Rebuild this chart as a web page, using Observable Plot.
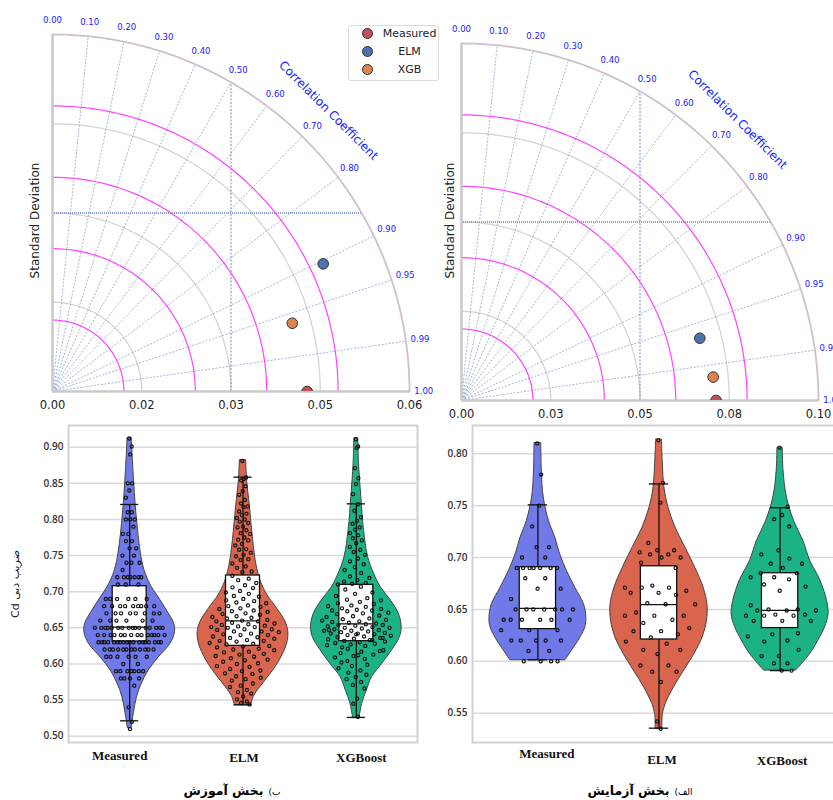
<!DOCTYPE html>
<html><head><meta charset="utf-8">
<script src="https://cdn.jsdelivr.net/npm/d3@7"></script>
<script src="https://cdn.jsdelivr.net/npm/@observablehq/plot@0.6"></script>
<style>
html,body{margin:0;padding:0;width:833px;height:800px;overflow:hidden;background:#fff;}
#root{position:relative;width:833px;height:800px;overflow:hidden;}
.panel{position:absolute;}
.panel svg{max-width:none;overflow:visible;display:block;}
#legend{position:absolute;left:348px;top:25px;width:89px;height:54px;border:1px solid #dcdcdc;border-radius:3px;background:#fff;z-index:5;}
.caption{position:absolute;top:780px;width:220px;text-align:center;font-family:"DejaVu Sans";direction:rtl;white-space:nowrap;color:#000;}
.caption .pre{font-size:9px;font-weight:normal;}
.caption b{font-size:12.5px;}
</style></head><body><div id="root"></div>
<script>
// ---------------- Taylor diagram data ----------------
const taylorModels = ["Measured", "ELM", "XGB"];
const taylorColors = ["#c44e52", "#4c72b0", "#dd8452"];
const corrTicks = [0.0, 0.1, 0.2, 0.3, 0.4, 0.5, 0.6, 0.7, 0.8, 0.9, 0.95, 0.99, 1.0];
const corrTickLabels = ["0.00","0.10","0.20","0.30","0.40","0.50","0.60","0.70","0.80","0.90","0.95","0.99","1.00"];

// training (left)
const trainStd = [0.0428, 0.0503, 0.0419];
const trainCorr = [1.0, 0.9045, 0.9618];
const trainMaxStd = 0.06;
const trainStdTicks = [0, 0.015, 0.03, 0.045, 0.06];
const trainStdTickLabels = ["0.00", "0.02", "0.03", "0.05", "0.06"];
const trainPinkRadii = [0.012, 0.024, 0.036, 0.048];
const trainGrayRadii = [0.015, 0.03, 0.045];

// test (right)
const testStd = [0.0713, 0.0690, 0.0708];
const testCorr = [1.0, 0.9675, 0.9957];
const testMaxStd = 0.10;
const testStdTicks = [0, 0.025, 0.05, 0.075, 0.10];
const testStdTickLabels = ["0.00", "0.03", "0.05", "0.08", "0.10"];
const testPinkRadii = [0.02, 0.04, 0.06, 0.08];
const testGrayRadii = [0.025, 0.05, 0.075];

// ---------------- Violin data ----------------
const violinCategories = ["Measured", "ELM", "XGBoost"];
const violinColors = ["#6f79e8", "#d9654f", "#1bb386"];
const trainYTicks = [0.50, 0.55, 0.60, 0.65, 0.70, 0.75, 0.80, 0.85, 0.90];
const testYTicks = [0.55, 0.60, 0.65, 0.70, 0.75, 0.80];

const trainMeasured = [0.912,0.901,0.89,0.85,0.85,0.84,0.83,0.81,0.81,0.80,0.80,0.80,0.79,0.78,0.78,0.77,0.77,0.76,0.76,0.75,0.75,0.74,0.74,0.74,0.73,
0.72,0.72,0.72,0.72,0.72,0.72,0.72,0.71,0.71,0.71,0.69,0.69,0.69,0.69,0.69,0.69,
0.68,0.68,0.68,0.68,0.68,0.68,0.68,0.68,0.68,0.67,0.67,0.67,0.67,0.67,0.67,0.67,0.67,0.66,0.66,0.66,0.66,0.66,0.66,
0.65,0.65,0.65,0.65,0.65,0.65,0.65,0.65,0.65,0.65,0.65,0.65,0.65,0.65,0.65,0.65,
0.64,0.64,0.64,0.64,0.64,0.64,0.64,0.64,0.64,0.64,0.64,0.64,0.64,0.64,
0.63,0.63,0.63,0.63,0.63,0.63,0.63,0.63,0.63,0.63,0.63,0.63,0.63,0.63,0.63,0.63,0.63,0.63,
0.62,0.62,0.62,0.62,0.62,0.62,0.62,0.62,0.62,0.62,0.62,0.62,0.61,0.61,0.61,0.61,0.61,0.61,0.60,0.60,
0.59,0.59,0.59,0.59,0.59,0.59,0.59,0.58,0.58,0.58,0.58,0.57,0.54,0.52,0.51];
const trainELM = [0.881,0.858,0.856,0.854,0.846,0.839,0.834,0.827,0.822,0.818,0.817,0.811,0.808,0.806,0.802,0.800,0.797,
0.795,0.790,0.789,0.785,0.781,0.780,0.775,0.772,0.771,0.766,0.764,0.759,0.758,0.754,0.751,0.749,
0.745,0.744,0.739,0.735,0.733,0.728,0.727,0.722,0.718,0.716,0.712,0.709,0.706,0.705,0.701,0.699,
0.697,0.694,0.693,0.690,0.688,0.687,0.685,0.684,0.681,0.680,0.679,0.677,0.676,0.674,
0.673,0.672,0.670,0.669,0.668,0.666,0.665,0.664,0.663,0.661,0.660,0.659,0.659,0.657,0.656,0.655,0.654,0.653,0.652,0.651,
0.651,0.650,0.648,0.648,0.647,0.645,0.645,0.644,0.642,0.641,0.640,0.640,0.638,0.637,0.636,0.635,0.633,0.632,0.632,0.631,0.629,0.628,
0.627,0.625,0.624,0.623,0.621,0.620,0.619,0.617,0.616,0.614,0.613,0.611,0.610,0.608,0.606,0.605,
0.603,0.601,0.600,0.597,0.596,0.593,0.591,0.590,0.587,0.586,0.583,0.581,0.579,
0.577,0.573,0.570,0.568,0.564,0.561,0.559,0.555,0.551,0.548,0.546,0.544];
const trainXGBoost = [0.911,0.901,0.899,0.871,0.857,0.849,0.835,0.821,0.812,0.803,0.798,0.794,0.789,0.786,
0.781,0.778,0.774,0.771,0.767,0.762,0.758,0.755,0.751,0.746,0.742,0.738,0.734,0.730,0.726,
0.721,0.719,0.716,0.714,0.712,0.711,0.710,0.707,0.703,0.699,0.697,0.694,0.691,
0.689,0.688,0.686,0.684,0.683,0.681,0.680,0.679,0.677,0.676,0.675,0.674,
0.674,0.673,0.671,0.670,0.669,0.667,0.666,0.665,0.663,0.662,0.661,0.659,0.658,0.656,0.657,0.660,
0.655,0.654,0.654,0.653,0.652,0.651,0.650,0.650,0.649,0.648,0.647,0.646,0.646,0.645,0.644,0.643,0.642,0.642,0.641,0.640,0.639,0.638,
0.637,0.636,0.635,0.634,0.633,0.632,0.631,0.630,0.629,0.628,0.627,0.626,0.625,0.623,0.636,0.641,0.647,0.633,
0.621,0.619,0.617,0.615,0.613,0.611,0.609,0.607,0.604,0.618,0.612,
0.602,0.599,0.597,0.594,0.591,0.588,0.585,0.582,0.579,0.575,0.571,0.566,0.552,0.545,0.527];

const testMeasured = [0.81,0.78,0.75,0.73,0.71,0.71,0.70,0.70,0.69,0.69,0.69,0.69,0.69,0.69,0.69,0.68,0.68,0.67,0.67,0.66,
0.65,0.65,0.65,0.65,0.65,0.65,0.65,0.64,0.64,0.64,0.64,0.64,0.64,0.63,0.63,0.63,0.62,0.62,0.62,0.62,0.62,0.61,0.61,0.60,0.60,0.60,0.60];
const testELM = [0.813,0.772,0.753,0.714,0.707,0.707,0.705,0.703,0.703,0.700,0.700,0.695,0.690,0.673,0.671,0.671,0.671,0.668,0.666,0.666,0.664,
0.656,0.655,0.655,0.647,0.644,0.644,0.644,0.640,0.637,0.632,0.629,0.629,0.626,0.623,0.619,0.617,0.611,0.611,0.607,0.596,0.596,0.590,0.590,0.580,0.542,0.535];
const testXGBoost = [0.806,0.749,0.741,0.737,0.730,0.707,0.703,0.699,0.694,0.694,0.690,0.685,0.685,0.681,0.681,0.679,0.674,0.672,0.668,0.654,
0.650,0.650,0.649,0.649,0.649,0.645,0.645,0.644,0.644,0.644,0.639,0.639,0.639,0.627,0.626,0.624,0.620,0.619,0.611,0.605,0.605,0.598,0.598,0.591,0.591];

// box-plot statistics
const trainQ1 = [0.631, 0.625, 0.6315];
const trainMedian = [0.651, 0.6597, 0.6556];
const trainQ3 = [0.7076, 0.7224, 0.7095];
const trainWhiskerLow = [0.5213, 0.5434, 0.526];
const trainWhiskerHigh = [0.8207, 0.8585, 0.8216];
const testQ1 = [0.631, 0.621, 0.632];
const testMedian = [0.651, 0.6547, 0.649];
const testQ3 = [0.6907, 0.6916, 0.6849];
const testWhiskerLow = [0.6014, 0.5355, 0.591];
const testWhiskerHigh = [0.7508, 0.771, 0.748];

// violin outlines: [value, relative density]
const trainOutlineMeasured = [[0.912,0.05],[0.909,0.05],[0.849,0.10],[0.80,0.16],[0.748,0.26],[0.725,0.35],[0.706,0.49],[0.692,0.64],[0.674,0.82],[0.656,0.98],[0.644,1.0],[0.628,0.90],[0.609,0.64],[0.591,0.42],[0.573,0.27],[0.554,0.16],[0.531,0.09],[0.515,0.05],[0.511,0.04]];
const trainOutlineELM = [[0.8816,0.07],[0.854,0.09],[0.819,0.15],[0.773,0.22],[0.736,0.30],[0.713,0.40],[0.695,0.54],[0.676,0.76],[0.658,0.94],[0.644,1.0],[0.630,0.98],[0.612,0.87],[0.593,0.69],[0.575,0.47],[0.556,0.25],[0.543,0.18]];
const trainOutlineXGBoost = [[0.9116,0.045],[0.877,0.06],[0.831,0.11],[0.785,0.17],[0.748,0.26],[0.725,0.39],[0.706,0.54],[0.688,0.76],[0.669,0.94],[0.651,1.0],[0.637,0.96],[0.619,0.79],[0.600,0.57],[0.582,0.35],[0.563,0.23],[0.545,0.13],[0.525,0.07]];
const testOutlineMeasured = [[0.81,0.07],[0.784,0.08],[0.758,0.12],[0.735,0.23],[0.719,0.36],[0.703,0.46],[0.687,0.60],[0.671,0.77],[0.655,0.95],[0.642,1.0],[0.633,0.98],[0.623,0.88],[0.61,0.70],[0.601,0.57]];
const testOutlineELM = [[0.8135,0.06],[0.79,0.08],[0.768,0.11],[0.749,0.19],[0.73,0.33],[0.71,0.54],[0.69,0.75],[0.671,0.92],[0.655,1.0],[0.639,0.99],[0.623,0.90],[0.607,0.73],[0.591,0.52],[0.575,0.31],[0.559,0.14],[0.549,0.08],[0.535,0.07]];
const testOutlineXGBoost = [[0.8054,0.055],[0.784,0.07],[0.758,0.14],[0.735,0.29],[0.716,0.48],[0.697,0.62],[0.678,0.83],[0.658,0.97],[0.645,1.0],[0.633,0.93],[0.62,0.79],[0.607,0.62],[0.591,0.33]];

const yLabelText = "ضریب دبی Cd";
const trainCaptionPrefix = "ب)";
const trainCaptionText = "بخش آموزش";
const testCaptionPrefix = "الف)";
const testCaptionText = "بخش آزمایش";

// ---------------- drawing ----------------
const root = document.getElementById("root");
function place(node, left, top, w) {
  const d = document.createElement("div");
  d.className = "panel";
  d.style.left = left + "px"; d.style.top = top + "px"; d.style.width = w + "px";
  d.appendChild(node); root.appendChild(d);
}

function taylorPlot(o) {
  const R = o.maxStd, rad = Math.PI / 180;
  const arcPts = (r, g) => d3.range(0, 90.5, 1).map(a => ({g, x: r * Math.cos(a * rad), y: r * Math.sin(a * rad)}));
  const gray = o.gray.flatMap((r, i) => arcPts(r, i));
  const pink = o.pink.flatMap((r, i) => arcPts(r, i));
  const outer = arcPts(R, 0);
  const spokes = corrTicks.filter(c => c > 0 && c < 1).map(c => ({x1: 0, y1: 0, x2: R * c, y2: R * Math.sqrt(1 - c * c)}));
  const labels = corrTicks.map((c, i) => ({x: 1.04 * R * c, y: 1.04 * R * Math.sqrt(1 - c * c), t: corrTickLabels[i]}));
  const pts = taylorModels.map((m, i) => ({m, x: o.std[i] * o.corr[i], y: o.std[i] * Math.sqrt(1 - o.corr[i] ** 2)}));
  const half = R * Math.sqrt(3) / 2;
  return Plot.plot({
    width: o.width, height: o.height,
    marginLeft: o.ml, marginRight: o.mr, marginTop: o.mt, marginBottom: o.mb,
    x: {domain: [0, R], axis: null}, y: {domain: [0, R], axis: null},
    color: {domain: taylorModels, range: taylorColors},
    style: {fontFamily: "DejaVu Sans", fontSize: "11.5px", color: "#222", background: "transparent", overflow: "visible"},
    marks: [
      Plot.line(gray, {x: "x", y: "y", z: "g", stroke: "#d4d4d4", strokeWidth: 1.3}),
      Plot.link(spokes, {x1: "x1", y1: "y1", x2: "x2", y2: "y2", stroke: "#8ea3d2", strokeWidth: 0.8, strokeDasharray: "2,1.5"}),
      Plot.ruleX([R / 2], {y1: 0, y2: half, stroke: "#6a80c2", strokeWidth: 0.9, strokeDasharray: "2,1.5"}),
      Plot.ruleY([R / 2], {x1: 0, x2: half, stroke: "#8a9bcc", strokeWidth: 1.8, strokeDasharray: "1,1"}),
      Plot.line(pink, {x: "x", y: "y", z: "g", stroke: "#ff44ff", strokeWidth: 1.2}),
      Plot.line(outer, {x: "x", y: "y", stroke: "#cfbfcf", strokeWidth: 1.8}),
      Plot.ruleX([0], {y1: 0, y2: R, stroke: "#c9c9c9", strokeWidth: 2.5}),
      Plot.ruleY([0], {x1: 0, x2: R, stroke: "#c9c9c9", strokeWidth: 2.5}),
      Plot.text(labels, {x: "x", y: "y", text: "t", fill: "#2020ff", fontSize: 8.5}),
      Plot.text([{x: 0.773 * R, y: 0.787 * R}], {x: "x", y: "y", text: () => "Correlation Coefficient", rotate: 45, fill: "#2020ff", fontSize: 12}),
      Plot.text([{x: o.ylabX * R, y: o.ylabY * R}], {x: "x", y: "y", text: () => "Standard Deviation", rotate: -90, textAnchor: "middle", fontSize: 12, fill: "#222"}),
      Plot.dot(pts, {x: "x", y: "y", fill: "m", r: 5.3, stroke: "#333", strokeWidth: 1, clip: true}),
      Plot.axisX(o.ticks, {tickFormat: d => o.tickLabels[o.ticks.indexOf(d)], tickSize: 0, tickPadding: 9, fontSize: 11.5, label: null})
    ]
  });
}

place(taylorPlot({maxStd: trainMaxStd, std: trainStd, corr: trainCorr, ticks: trainStdTicks, tickLabels: trainStdTickLabels,
  pink: trainPinkRadii, gray: trainGrayRadii, width: 420, height: 420, ml: 52, mr: 11, mt: 34, mb: 29,
  ylabX: -17 / 357, ylabY: 171 / 357}), 0, 0, 420);
place(taylorPlot({maxStd: testMaxStd, std: testStd, corr: testCorr, ticks: testStdTicks, tickLabels: testStdTickLabels,
  pink: testPinkRadii, gray: testGrayRadii, width: 430, height: 430, ml: 41, mr: 32, mt: 43, mb: 30,
  ylabX: -11 / 357, ylabY: 180 / 357}), 420, 0, 430);

// legend
const legendPlot = Plot.plot({
  width: 89, height: 54, margin: 0,
  x: {domain: [0, 89], range: [0, 89], axis: null}, y: {domain: [0, 54], range: [0, 54], axis: null},
  color: {domain: taylorModels, range: taylorColors},
  style: {fontFamily: "DejaVu Sans", background: "transparent"},
  marks: [
    Plot.dot(taylorModels, {x: 18, y: (d, i) => 7 + 18 * i, fill: d => d, r: 5, stroke: "#333", strokeWidth: 1}),
    Plot.text(taylorModels, {x: 60, y: (d, i) => 7 + 18 * i, text: d => d, fontSize: 11, fill: "#222"})
  ]
});
const lg = document.createElement("div"); lg.id = "legend"; lg.appendChild(legendPlot); root.appendChild(lg);

function violinPlot(o) {
  const HW = 0.4;
  const cats = violinCategories;
  const area = cats.flatMap((c, i) => o.outlines[i].map(([y, w]) => ({c, y, x1: i - w * HW, x2: i + w * HW})));
  const pts = cats.flatMap((c, i) => {
    const ol = o.outlines[i];
    const wAt = d3.scaleLinear().domain(ol.map(d => d[0])).range(ol.map(d => d[1])).clamp(true);
    return o.values[i].map((v, j) => {
      const u = ((j * 0.6180339887 + 0.37) % 1) * 2 - 1;
      return {c, y: v, x: i + u * wAt(v) * HW * 0.8};
    });
  });
  const boxes = cats.map((c, i) => ({c, i, q1: o.q1[i], med: o.med[i], q3: o.q3[i], lo: o.lo[i], hi: o.hi[i]}));
  const pxPerUnit = (o.width - o.ml - o.mr) / (o.xDomain[1] - o.xDomain[0]);
  const marks = [
    Plot.gridY(o.yTicks, {stroke: "#d9d9d9", strokeOpacity: 1, strokeWidth: 1.5}),
    Plot.frame({stroke: "#d2d2d2", strokeWidth: 2}),
    Plot.areaX(area, {y: "y", x1: "x1", x2: "x2", z: "c", fill: "c", stroke: "#444", strokeWidth: 1, curve: "catmull-rom"}),
    Plot.ruleX(boxes, {x: "i", y1: "lo", y2: "hi", stroke: "#111", strokeWidth: 1.3}),
    Plot.ruleY(boxes, {y: "lo", x1: d => d.i - 0.08, x2: d => d.i + 0.08, stroke: "#111", strokeWidth: 1.3}),
    Plot.ruleY(boxes, {y: "hi", x1: d => d.i - 0.08, x2: d => d.i + 0.08, stroke: "#111", strokeWidth: 1.3}),
    Plot.rect(boxes, {x1: d => d.i - 0.15, x2: d => d.i + 0.15, y1: "q1", y2: "q3", fill: "white", stroke: "#111", strokeWidth: 1.3}),
    Plot.ruleY(boxes, {y: "med", x1: d => d.i - 0.15, x2: d => d.i + 0.15, stroke: "#111", strokeWidth: 1.3}),
    Plot.dot(pts, {x: "x", y: "y", r: 1.6, stroke: "#111", strokeWidth: 1.15, fill: "none"}),
    Plot.axisY(o.yTicks, {tickFormat: d3.format(".2f"), tickSize: 0, tickPadding: o.tickPad, fontSize: 10, fontWeight: 600, fontFamily: "Open Sans", fill: "#333", label: null})
  ];
  // category labels (per-label offsets are layout only)
  cats.forEach((c, i) => marks.push(Plot.text([c], {x: () => i, frameAnchor: "bottom", lineAnchor: "middle",
    dx: o.labelDx[i], dy: o.labelDy[i], text: d => d, fontFamily: "Liberation Serif", fontWeight: "bold", fontSize: 13, fill: "#111"})));
  if (o.ylabel) {
    marks.push(Plot.text([o.ylabel], {x: () => o.xDomain[0] - 53 / pxPerUnit, y: () => (o.yDomain[0] + o.yDomain[1]) / 2,
      text: d => "\u202B" + d + "\u202C", rotate: -90, textAnchor: "middle", fontFamily: "DejaVu Sans", fontSize: 11, fill: "#222"}));
  }
  return Plot.plot({
    width: o.width, height: o.height, marginLeft: o.ml, marginRight: o.mr, marginTop: o.mt, marginBottom: o.mb,
    x: {domain: o.xDomain, axis: null}, y: {domain: o.yDomain, axis: null},
    color: {domain: cats, range: violinColors},
    style: {fontFamily: "Open Sans", background: "transparent", overflow: "visible"},
    marks
  });
}

place(violinPlot({
  values: [trainMeasured, trainELM, trainXGBoost],
  outlines: [trainOutlineMeasured, trainOutlineELM, trainOutlineXGBoost],
  q1: trainQ1, med: trainMedian, q3: trainQ3, lo: trainWhiskerLow, hi: trainWhiskerHigh,
  yTicks: trainYTicks, yDomain: [0.4913, 0.930], xDomain: [-0.54, 2.54],
  width: 420, height: 380, ml: 68, mr: 3, mt: 5, mb: 58, tickPad: 5,
  labelDx: [-10, 1, 5], labelDy: [13, 15, 15], ylabel: yLabelText
}), 0, 420, 420);

place(violinPlot({
  values: [testMeasured, testELM, testXGBoost],
  outlines: [testOutlineMeasured, testOutlineELM, testOutlineXGBoost],
  q1: testQ1, med: testMedian, q3: testQ3, lo: testWhiskerLow, hi: testWhiskerHigh,
  yTicks: testYTicks, yDomain: [0.5217, 0.8273], xDomain: [-0.54, 2.54],
  width: 430, height: 380, ml: 52, mr: 5, mt: 5, mb: 58, tickPad: 5,
  labelDx: [9, 3, 2], labelDy: [11, 17, 18], ylabel: null
}), 420, 420, 430);

// captions
function caption(prefix, text, center) {
  const d = document.createElement("div");
  d.className = "caption";
  d.style.left = (center - 110) + "px";
  const p = document.createElement("span"); p.className = "pre"; p.textContent = prefix;
  const b = document.createElement("b"); b.textContent = text;
  d.appendChild(p); d.appendChild(document.createTextNode(" ")); d.appendChild(b);
  root.appendChild(d);
}
caption(trainCaptionPrefix, trainCaptionText, 232);
caption(testCaptionPrefix, testCaptionText, 640);
</script>
</body></html>
